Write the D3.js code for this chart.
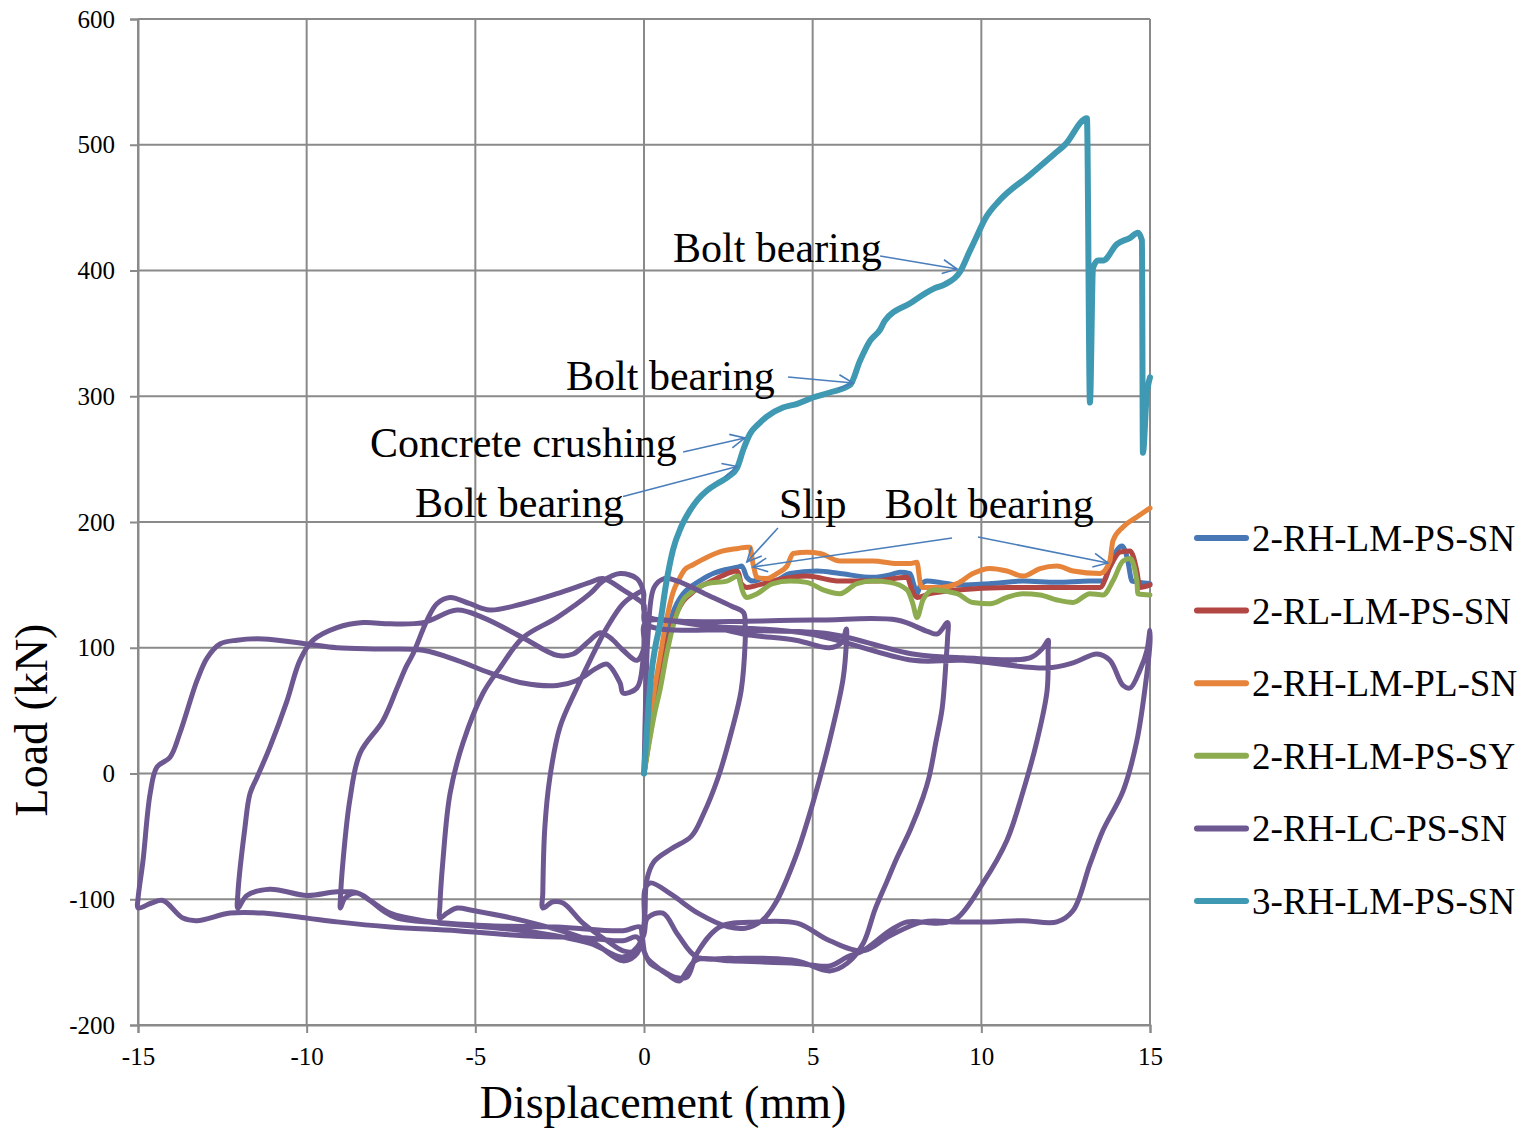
<!DOCTYPE html>
<html>
<head>
<meta charset="utf-8">
<script src="https://cdn.jsdelivr.net/npm/d3@7"></script>
<style>
  html, body { margin: 0; padding: 0; background: #fff; }
  svg { display: block; }
  text { font-family: "Liberation Serif", "Times New Roman", serif; fill: #000; }
</style>
</head>
<body>
<svg id="chart" width="1526" height="1130"></svg>
<script>
// ---------------- data ----------------
const xTicks = [-15, -10, -5, 0, 5, 10, 15];
const yTicks = [-200, -100, 0, 100, 200, 300, 400, 500, 600];
const xTickLabels = ["-15", "-10", "-5", "0", "5", "10", "15"];
const yTickLabels = ["-200", "-100", "0", "100", "200", "300", "400", "500", "600"];
const seriesNames = ["2-RH-LM-PS-SN", "2-RL-LM-PS-SN", "2-RH-LM-PL-SN", "2-RH-LM-PS-SY", "2-RH-LC-PS-SN", "3-RH-LM-PS-SN"];
const seriesColors = ["#4777b4", "#b24643", "#e5843a", "#8dab4f", "#6d5891", "#3f99b2"];

const blue = [[0,0],[0.15,30],[0.3,58],[0.47,82],[0.65,108],[0.86,128],[1.16,143],[1.36,148],[1.7,154],[2.05,159],[2.4,162],[2.76,164],[2.9,165],[3.05,156],[3.23,153],[3.53,155],[3.82,153],[4.33,159],[5.13,161],[5.81,159],[6.79,156],[7.3,158],[7.59,160],[7.89,159],[8.0,150],[8.09,143],[8.2,150],[8.39,153],[8.77,152],[9.28,150],[10.26,151],[11.24,153],[12.24,152],[13.22,153],[13.61,153],[13.9,172],[14.17,181],[14.32,172],[14.47,153],[14.7,152],[15,151]];

const red = [[0,0],[0.15,26],[0.3,50],[0.47,72],[0.65,100],[0.86,120],[1.16,137],[1.4,143],[1.57,147],[2.0,153],[2.3,157],[2.76,161],[2.82,158],[2.88,151],[3.05,148],[3.4,150],[3.82,153],[4.83,157],[5.81,153],[6.79,153],[7.8,156],[7.94,146],[8.09,140],[8.48,143],[9.28,146],[10.76,148],[12.72,148],[13.52,148],[13.81,164],[14.11,176],[14.41,177],[14.61,161],[14.7,148],[15,150]];

const orange = [[0,0],[0.15,35],[0.3,65],[0.47,92],[0.65,120],[0.86,144],[1.05,155],[1.2,162],[1.45,166],[1.87,172],[2.34,177],[2.8,179],[3.05,180],[3.14,180],[3.23,167],[3.35,156],[3.65,155],[3.94,159],[4.24,165],[4.42,175],[4.83,176],[5.22,175],[5.81,169],[6.79,169],[7.5,167],[7.9,167],[8.09,168],[8.2,150],[8.27,148],[8.77,148],[9.28,151],[9.75,159],[10.26,163],[10.76,161],[11.24,157],[11.74,163],[12.24,165],[12.72,161],[13.52,159],[13.81,169],[13.9,185],[14.2,196],[14.61,204],[15,211]];

const green = [[0,0],[0.15,24],[0.3,46],[0.47,66],[0.68,96],[0.86,117],[1.16,138],[1.36,143],[1.87,151],[2.46,153],[2.79,157],[2.85,152],[2.91,146],[3.05,140],[3.35,143],[3.82,151],[4.33,153],[4.83,152],[5.31,146],[5.81,143],[6.31,151],[6.79,153],[7.29,152],[7.8,146],[7.97,135],[8.09,124],[8.27,138],[8.57,146],[9.28,143],[9.75,136],[10.26,135],[10.76,140],[11.24,143],[11.74,142],[12.24,138],[12.72,136],[13.22,143],[13.61,142],[13.9,153],[14.2,169],[14.41,171],[14.61,153],[14.64,143],[15,142]];

const purple = [
  // 0 -> +3
  [0,0],[0.05,60],[0.12,110],[0.3,148],[0.6,155],[1.0,153],[1.8,143],[2.6,133],[2.95,128],[3.0,118],
  // +3 -> -3
  [3.0,105],[2.88,66],[2.6,34],[2.2,-3],[1.75,-33],[1.4,-50],[0.8,-60],[0.3,-70],[0.08,-85],[0.02,-115],[-0.1,-135],[-0.21,-141],[-0.62,-141],[-1.1,-133],[-1.81,-119],[-2.4,-103],[-2.7,-102],[-3.0,-107],
  // -3 -> +6
  [-3.0,-95],[-2.94,-43],[-2.79,-3],[-2.49,37],[-1.99,68],[-1.6,90],[-1.1,116],[-0.62,135],[-0.21,143],[-0.03,145],[0.05,126],[1.5,120],[2.93,111],[4.5,106],[5.5,100],[5.85,104],[6.0,115],
  // +6 -> -6
  [6.0,105],[5.9,75],[5.5,26],[5.0,-24],[4.5,-66],[3.9,-103],[3.5,-117],[3.0,-123],[2.5,-122],[1.6,-111],[0.8,-96],[0.2,-87],[0.03,-92],[0.0,-120],[-0.2,-143],[-0.62,-149],[-1.6,-133],[-3.59,-117],[-5.07,-109],[-5.54,-107],[-5.84,-111],[-6.05,-115],
  // -6 -> +9
  [-6.05,-105],[-5.96,-69],[-5.75,-16],[-5.37,24],[-4.77,64],[-4.27,84],[-3.59,108],[-2.58,124],[-1.6,143],[-1.22,153],[-0.71,159],[-0.21,155],[-0.03,146],[0.05,126],[0.5,122],[5.0,122],[7.5,122],[8.4,113],[8.7,111],[9.0,120],
  // +9 -> -9
  [9.0,108],[8.96,92],[8.84,52],[8.66,26],[8.45,-3],[8.27,-19],[7.89,-45],[7.5,-67],[7.2,-86],[6.85,-108],[6.5,-135],[6.02,-151],[5.51,-157],[4.54,-149],[3.53,-147],[2.55,-147],[1.57,-146],[1.0,-128],[0.56,-111],[0.1,-115],[0.0,-128],[-0.2,-138],[-0.62,-146],[-1.6,-135],[-3.59,-125],[-6.05,-119],[-7.32,-115],[-7.74,-109],[-8.5,-95],[-8.86,-99],[-9.0,-107],
  // -9 -> +12
  [-9.0,-100],[-8.92,-69],[-8.72,-21],[-8.42,16],[-7.74,42],[-7.32,68],[-7.05,85],[-6.85,95],[-6.43,122],[-6.14,135],[-5.75,140],[-5.16,135],[-4.57,130],[-3.59,135],[-2.58,143],[-1.6,152],[-1.22,155],[-0.62,146],[-0.21,139],[0.0,134],[0.05,119],[2.85,114],[5.51,111],[7.97,95],[9.46,92],[11.44,92],[11.83,100],[11.98,106],
  // +12 -> -12
  [11.98,98],[11.95,66],[11.65,26],[11.24,-14],[10.76,-53],[10.05,-87],[9.28,-115],[8.77,-119],[7.8,-118],[7.29,-125],[6.49,-141],[6.02,-146],[5.51,-153],[4.54,-151],[2.55,-149],[1.57,-148],[1.25,-158],[1.05,-165],[0.7,-160],[0.3,-152],[0.05,-145],[-0.05,-130],[-0.12,-122],[-0.62,-125],[-2.58,-122],[-4.57,-121],[-6.55,-117],[-7.53,-111],[-8.12,-101],[-8.5,-95],[-9.1,-94],[-9.99,-97],[-11.09,-92],[-11.77,-97],[-12.04,-107],
  // -12 -> +15
  [-12.04,-96],[-11.83,-43],[-11.68,-16],[-11.47,-3],[-11.09,21],[-10.58,58],[-10.2,90],[-9.81,106],[-9.1,116],[-8.33,120],[-7.53,119],[-6.55,120],[-5.54,130],[-4.77,124],[-3.59,108],[-2.58,94],[-2.1,95],[-1.6,106],[-1.3,112],[-1.0,108],[-0.62,98],[-0.21,90],[0.0,100],[0.05,120],[2.0,117],[4.92,111],[7.97,90],[9.46,90],[11.95,84],[12.72,88],[13.43,95],[13.81,90],[14.2,70],[14.41,68],[14.7,82],[14.91,98],[15,114],
  // +15 -> -15
  [15,104],[14.91,80],[14.61,26],[14.2,-14],[13.61,-45],[13.22,-72],[12.72,-109],[12.24,-118],[11.24,-117],[10.26,-118],[9.28,-118],[8.27,-118],[7.29,-129],[6.49,-141],[5.51,-133],[4.54,-119],[3.35,-118],[2.25,-122],[1.57,-143],[1.27,-162],[0.9,-162],[0.56,-157],[0.18,-151],[0.03,-143],[-0.21,-130],[-0.62,-133],[-1.6,-131],[-3.59,-129],[-5.54,-125],[-7.53,-122],[-9.1,-118],[-9.99,-115],[-11.29,-111],[-12.27,-111],[-13.25,-117],[-13.67,-115],[-14.26,-101],[-14.6,-103],[-15,-107],
  // -15 -> 0
  [-15,-100],[-14.85,-69],[-14.64,-16],[-14.44,5],[-14.05,13],[-13.76,32],[-13.25,74],[-12.95,92],[-12.57,103],[-12.07,106],[-11.29,107],[-9.99,103],[-9.1,100],[-7.83,99],[-6.55,98],[-5.54,90],[-4.57,80],[-3.59,72],[-2.58,70],[-1.99,74],[-1.39,84],[-1.1,87],[-0.71,72],[-0.62,64],[-0.21,68],[-0.03,90],[0.0,110]
];

const teal = [[0,0],[0.1,40],[0.2,75],[0.33,100],[0.47,118],[0.65,150],[0.86,178],[1.1,196],[1.36,209],[1.6,218],[1.87,225],[2.2,231],[2.5,236],[2.76,243],[2.95,258],[3.14,270],[3.4,278],[3.65,284],[4.12,291],[4.54,294],[5.01,299],[5.51,303],[6.11,309],[6.4,328],[6.7,344],[7.0,353],[7.14,360],[7.89,374],[8.63,386],[8.92,389],[9.37,399],[9.65,415],[9.81,424],[10.11,441],[10.55,456],[11.44,476],[12.18,493],[12.48,500],[13.13,521],[13.22,295],[13.31,402],[13.46,408],[13.61,408],[14.02,421],[14.41,426],[14.64,430],[14.76,424],[14.79,255],[14.9,300],[15.0,315]];

// annotation texts (anchor in data units: displacement, load)
const annoTexts = [
  {t: "Bolt bearing", x: 0.86, y: 406.8},
  {t: "Bolt bearing", x: -2.31, y: 305.0},
  {t: "Concrete crushing", x: -8.12, y: 251.7},
  {t: "Bolt bearing", x: -6.79, y: 204.0},
  {t: "Slip", x: 4.0, y: 203.2},
  {t: "Bolt bearing", x: 7.14, y: 203.2}
];
const annoArrows = [
  [7.0, 411.5, 9.28, 401.2],
  [4.27, 315.3, 6.2, 310.5],
  [1.16, 255.7, 2.99, 266.8],
  [-0.62, 220.3, 2.76, 244.1],
  [3.97, 195.2, 3.05, 168.2],
  [9.13, 187.3, 3.23, 164.2],
  [9.9, 188.1, 13.75, 167.4]
];

// ---------------- drawing ----------------
const svg = d3.select("#chart");
const L = 138, R = 1150, T = 19, B = 1025;
const x = d3.scaleLinear().domain([-15, 15]).range([L, R]);
const y = d3.scaleLinear().domain([-200, 600]).range([B, T]);
const gridColor = "#8a8a8a";

// grid
svg.append("g").selectAll("line").data(xTicks).join("line")
  .attr("x1", d => x(d)).attr("x2", d => x(d)).attr("y1", T).attr("y2", B)
  .attr("stroke", gridColor).attr("stroke-width", 2);
svg.append("g").selectAll("line").data(yTicks).join("line")
  .attr("x1", L).attr("x2", R).attr("y1", d => y(d)).attr("y2", d => y(d))
  .attr("stroke", gridColor).attr("stroke-width", 2);

// axes
const xAxis = svg.append("g").attr("transform", `translate(0,${B})`)
  .call(d3.axisBottom(x).tickValues(xTicks).tickSize(8).tickPadding(14)
    .tickFormat((d, i) => xTickLabels[i]));
const yAxis = svg.append("g").attr("transform", `translate(${L},0)`)
  .call(d3.axisLeft(y).tickValues(yTicks).tickSize(8).tickPadding(15)
    .tickFormat((d, i) => yTickLabels[i]));
[xAxis, yAxis].forEach(g => {
  g.selectAll("path, line").attr("stroke", gridColor).attr("stroke-width", 2);
  g.selectAll("text").attr("font-size", 25).attr("font-family", "Liberation Serif, Times New Roman, serif").attr("fill", "#000");
});

// series
const lineMono = d3.line().x(d => x(d[0])).y(d => y(d[1])).curve(d3.curveMonotoneX);
const lineCR = d3.line().x(d => x(d[0])).y(d => y(d[1])).curve(d3.curveCatmullRom.alpha(0.5));
const drawData = [
  {d: blue, gen: lineMono, c: seriesColors[0], w: 5},
  {d: red, gen: lineMono, c: seriesColors[1], w: 5},
  {d: orange, gen: lineMono, c: seriesColors[2], w: 5},
  {d: green, gen: lineMono, c: seriesColors[3], w: 5},
  {d: purple, gen: lineCR, c: seriesColors[4], w: 5},
  {d: teal, gen: lineMono, c: seriesColors[5], w: 6}
];
const plot = svg.append("g");
drawData.forEach(s => {
  plot.append("path").attr("d", s.gen(s.d)).attr("fill", "none")
    .attr("stroke", s.c).attr("stroke-width", s.w)
    .attr("stroke-linejoin", "round").attr("stroke-linecap", "round");
});

// annotations
const ann = svg.append("g");
ann.selectAll("text").data(annoTexts).join("text")
  .attr("x", d => x(d.x)).attr("y", d => y(d.y))
  .attr("font-size", 42).text(d => d.t);
const arrowColor = "#4a7ebb";
annoArrows.forEach(a => {
  const x1 = x(a[0]), y1 = y(a[1]), x2 = x(a[2]), y2 = y(a[3]);
  ann.append("line").attr("x1", x1).attr("y1", y1).attr("x2", x2).attr("y2", y2)
    .attr("stroke", arrowColor).attr("stroke-width", 1.6);
  const ang = Math.atan2(y2 - y1, x2 - x1), len = 16, spread = 0.45;
  const p1 = [x2 - len * Math.cos(ang - spread), y2 - len * Math.sin(ang - spread)];
  const p2 = [x2 - len * Math.cos(ang + spread), y2 - len * Math.sin(ang + spread)];
  ann.append("path").attr("d", `M${p1[0]},${p1[1]}L${x2},${y2}L${p2[0]},${p2[1]}`)
    .attr("fill", "none").attr("stroke", arrowColor).attr("stroke-width", 1.6);
});

// axis titles
svg.append("text").attr("x", 663).attr("y", 1118).attr("text-anchor", "middle")
  .attr("font-size", 46).text("Displacement (mm)");
svg.append("text").attr("transform", "translate(47,720) rotate(-90)").attr("text-anchor", "middle")
  .attr("font-size", 46).text("Load (kN)");

// legend
const legY0 = 538, legDY = 72.6;
const leg = svg.append("g");
seriesNames.forEach((n, i) => {
  const yy = legY0 + i * legDY;
  leg.append("line").attr("x1", 1197).attr("x2", 1246).attr("y1", yy).attr("y2", yy)
    .attr("stroke", seriesColors[i]).attr("stroke-width", 6).attr("stroke-linecap", "round");
  leg.append("text").attr("x", 1252).attr("y", yy + 13).attr("font-size", 37).text(n);
});
</script>
</body>
</html>
